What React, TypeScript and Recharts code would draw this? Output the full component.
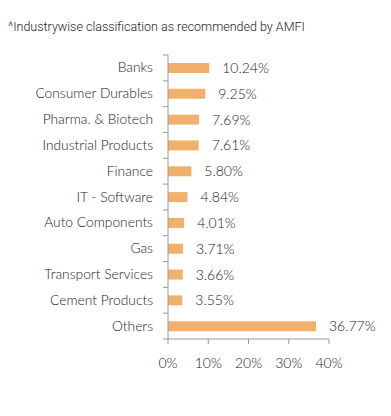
import React from "react";
import { BarChart, Bar, XAxis, YAxis, LabelList } from "recharts";

// sector weights, in %, as shown in the reference
const sectors = [
  "Banks",
  "Consumer Durables",
  "Pharma. & Biotech",
  "Industrial Products",
  "Finance",
  "IT - Software",
  "Auto Components",
  "Gas",
  "Transport Services",
  "Cement Products",
  "Others",
];
const weights = [10.24, 9.25, 7.69, 7.61, 5.8, 4.84, 4.01, 3.71, 3.66, 3.55, 36.77];
const xTicks = [0, 10, 20, 30, 40];

const data = sectors.map((name, i) => ({ name, value: weights[i] }));

const W = 391;
const H = 416;
const margin = { top: 55, right: 62, bottom: 47, left: 0 };
const xAxisHeight = 30;
const band = (H - margin.top - margin.bottom - xAxisHeight) / sectors.length;
const axisColor = "#9a9a9a";
const textColor = "#222";
const font = "Lato, 'Open Sans', sans-serif";

function SectorTick(props: any) {
  const { x, y, payload, index } = props;
  const axisX = x + 15;
  return (
    <g>
      <line x1={axisX - 5} x2={axisX} y1={y - band / 2} y2={y - band / 2} stroke={axisColor} />
      {index === sectors.length - 1 && (
        <line x1={axisX - 5} x2={axisX} y1={y + band / 2} y2={y + band / 2} stroke={axisColor} />
      )}
      <text
        x={x}
        y={y}
        dy={4.5}
        textAnchor="end"
        fontSize={13.8}
        fontWeight={300}
        fill={textColor}
        fontFamily={font}
      >
        {payload.value}
      </text>
    </g>
  );
}

export default function App() {
  return (
    <div style={{ position: "absolute", left: 0, top: 0, width: W, height: H, background: "#fff" }}>
      <div
        style={{
          position: "absolute",
          left: 8,
          top: 19,
          fontFamily: "Roboto, sans-serif",
          fontSize: 12.5,
          fontWeight: 300,
          color: "#222",
          whiteSpace: "nowrap",
        }}
      >
        ^Industrywise classification as recommended by AMFI
      </div>
      <BarChart width={W} height={H} data={data} layout="vertical" margin={margin}>
        <XAxis
          type="number"
          domain={[0, 40]}
          ticks={xTicks}
          tickFormatter={(v: number) => `${v}%`}
          height={xAxisHeight}
          stroke={axisColor}
          tickSize={5}
          tick={{ fontSize: 14, fontWeight: 300, fill: textColor, fontFamily: font }}
          tickMargin={14}
        />
        <YAxis
          type="category"
          dataKey="name"
          width={168}
          stroke={axisColor}
          tickLine={false}
          tickSize={0}
          tickMargin={15}
          interval={0}
          tick={<SectorTick />}
        />
        <Bar dataKey="value" fill="#f2b16b" barSize={10} isAnimationActive={false}>
          <LabelList
            dataKey="value"
            position="right"
            offset={13}
            formatter={(v: any) => `${Number(v).toFixed(2)}%`}
            style={{ fontSize: 14, fontWeight: 300, fill: textColor, fontFamily: font }}
          />
        </Bar>
      </BarChart>
    </div>
  );
}
